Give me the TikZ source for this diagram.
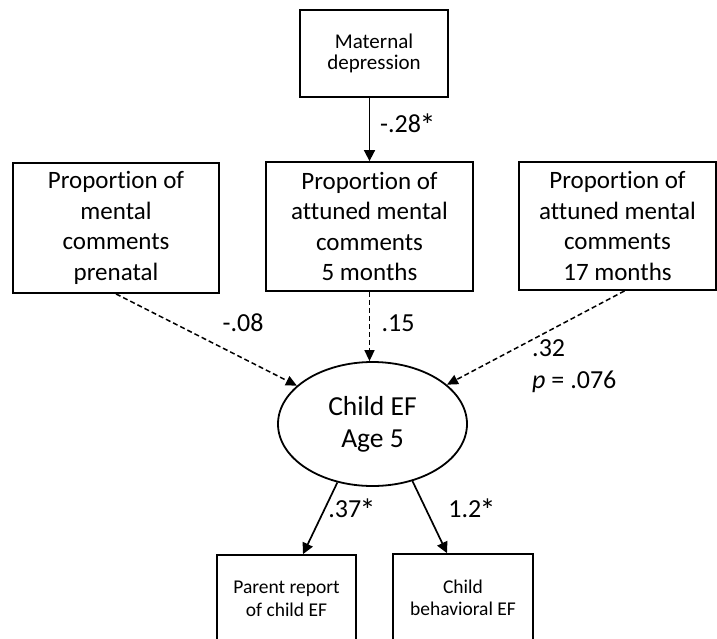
\documentclass[tikz,border=0pt]{standalone}
\usepackage{fontspec}
\setmainfont{Carlito}[Ligatures=CommonOff]
\usetikzlibrary{shapes.geometric,arrows.meta}
% larger significance star
\newcommand\sigstar{\kern-0.06em\raisebox{-0.3ex}{\fontsize{32}{32}\selectfont *}}
\begin{document}
\begin{tikzpicture}[x=1pt,y=-1pt,
  box/.style={draw,line width=1.8pt,align=center,inner sep=0pt},
  bigtext/.style={font=\fontsize{25}{30.5}\selectfont},
  smalltext/.style={font=\fontsize{19.5}{22.5}\selectfont},
  coef/.style={font=\fontsize{26}{32}\selectfont,inner sep=0pt},
  solidpath/.style={line width=1.7pt,-{Triangle[length=11pt,width=11pt]}},
  dashpath/.style={line width=1.5pt,dash pattern=on 5pt off 3pt,-{Triangle[length=11pt,width=10pt]}}
]
\useasboundingbox (0,0) rectangle (717,638);
\clip (0,0) rectangle (717,638);

% predictors
\node[box,font=\fontsize{21}{21.5}\selectfont,minimum width=148pt,minimum height=87pt] (mat) at (374,53.5) {Maternal\\depression};
\node[box,bigtext,minimum width=206pt,minimum height=130pt] (pre) at (116,228) {Proportion of\\mental\\comments\\prenatal};
\node[box,bigtext,minimum width=207pt,minimum height=129pt] (m5) at (369.5,226.5) {Proportion of\\attuned mental\\comments\\5 months};
\node[box,bigtext,minimum width=197pt,minimum height=128pt] (m17) at (617.5,226) {Proportion of\\attuned mental\\comments\\17 months};

% latent outcome
\node[draw,ellipse,line width=1.8pt,minimum width=189pt,minimum height=124pt,inner sep=0pt,align=center,font=\fontsize{27.5}{32}\selectfont] (ef) at (372.5,424) {Child EF\\Age 5};

% indicators
\node[box,smalltext,minimum width=139pt,minimum height=88pt] (pr) at (286.5,599) {Parent report\\of child EF};
\node[box,smalltext,minimum width=140pt,minimum height=88pt] (cb) at (463,598) {Child\\behavioral EF};

% paths
\draw[solidpath] (m5.north |- mat.south) -- (m5.north);
\draw[dashpath] (pre.south) -- (ef);
\draw[dashpath] (m5.south) -- (m5.south |- ef.north);
\draw[dashpath] ([xshift=7pt]m17.south) -- (ef);
\draw[solidpath] (ef.239) -- ([xshift=16.5pt]pr.north);
\draw[solidpath] (ef.305) -- ([xshift=-16pt]cb.north);

% coefficients
\node[coef,anchor=west] (l28) at (380,125) {-.28\sigstar};
\node[coef] (l08) at (243,323) {-.08};
\node[coef] (l15) at (398,323) {.15};
\node[coef,anchor=west,align=left] (l32) at (532,366) {.32\\\textit{p} = .076};
\node[coef] (l37) at (352,510) {.37\sigstar};
\node[coef] (l12) at (472,510) {1.2\sigstar};
\end{tikzpicture}
\end{document}
